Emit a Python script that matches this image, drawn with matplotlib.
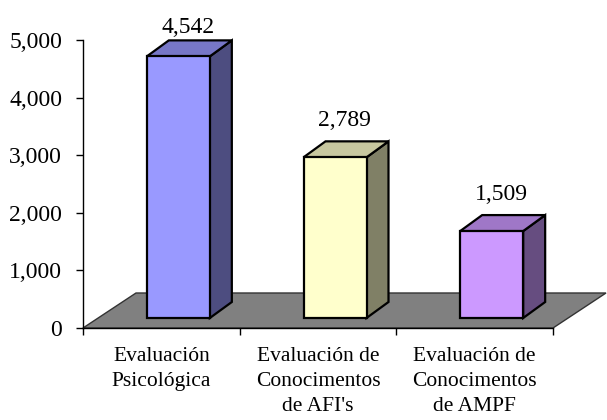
import matplotlib
matplotlib.use("Agg")
import matplotlib.pyplot as plt
from matplotlib.patches import Polygon
import numpy as np

categories = ["Evaluación\nPsicológica",
              "Evaluación de\nConocimentos\nde AFI's",
              "Evaluación de\nConocimentos\nde AMPF"]
values = [4542, 2789, 1509]
value_labels = ["4,542", "2,789", "1,509"]
yticks = [0, 1000, 2000, 3000, 4000, 5000]
ytick_labels = ["0", "1,000", "2,000", "3,000", "4,000", "5,000"]

front_colors = ["#9999FF", "#FFFFCC", "#CC99FF"]

plt.rcParams['font.family'] = ['Liberation Serif', 'DejaVu Serif']

W, H, DPI = 607, 420, 100
fig = plt.figure(figsize=(W / DPI, H / DPI), dpi=DPI)
fig.patch.set_facecolor("white")

# axes placement in pixels
ax_l, ax_r, ax_b, ax_t = 83, 553, 328, 40
ax = fig.add_axes([ax_l / W, (H - ax_b) / H, (ax_r - ax_l) / W, (ax_b - ax_t) / H])
ax.set_xlim(-0.5, 2.5)
ax.set_ylim(0, 5000)
ax.set_facecolor("none")

px_x = (ax_r - ax_l) / 3.0      # pixels per category unit
px_y = (ax_b - ax_t) / 5000.0   # pixels per value unit


def off(dx_px, dy_px):
    return dx_px / px_x, dy_px / px_y


# floor
fdx, fdy = off(53, 35)
floor = Polygon([(-0.5, 0), (2.5, 0), (2.5 + fdx, fdy), (-0.5 + fdx, fdy)],
                closed=True, facecolor="#808080", edgecolor="#333333",
                linewidth=1.0, clip_on=False, zorder=1)
ax.add_patch(floor)

# bars
bw = 63 / px_x
bfx, bfy = off(17, 10)   # front face offset into the floor
bdx, bdy = off(22, 16)   # bar depth
label_gap = 15 / px_y
label_max = (ax_b - 33) / px_y


def shade(hexc, f):
    c = np.array(matplotlib.colors.to_rgb(hexc)) * f
    return tuple(c)


for i, (v, col, lab) in enumerate(zip(values, front_colors, value_labels)):
    x0 = i - bw / 2 + bfx
    x1 = i + bw / 2 + bfx
    y0 = bfy
    y1 = bfy + v
    front = Polygon([(x0, y0), (x1, y0), (x1, y1), (x0, y1)], closed=True,
                    facecolor=col, edgecolor="black", linewidth=1.6,
                    clip_on=False, zorder=3, joinstyle="miter")
    top = Polygon([(x0, y1), (x1, y1), (x1 + bdx, y1 + bdy), (x0 + bdx, y1 + bdy)],
                  closed=True, facecolor=shade(col, 0.78), edgecolor="black",
                  linewidth=1.6, clip_on=False, zorder=3, joinstyle="miter")
    side = Polygon([(x1, y0), (x1 + bdx, y0 + bdy), (x1 + bdx, y1 + bdy), (x1, y1)],
                   closed=True, facecolor=shade(col, 0.5), edgecolor="black",
                   linewidth=1.6, clip_on=False, zorder=3, joinstyle="miter")
    for p in (side, top, front):
        ax.add_patch(p)
    ly = min(y1 + bdy + label_gap, label_max)
    ax.text(i + bfx + bdx / 2 - 0.01, ly, lab, ha="center", va="baseline",
            fontsize=17, clip_on=False, zorder=5)

# spines / ticks
for s in ("top", "right"):
    ax.spines[s].set_visible(False)
ax.spines["left"].set_linewidth(1.0)
ax.spines["bottom"].set_linewidth(1.0)
ax.spines["left"].set_zorder(4)
ax.spines["bottom"].set_zorder(4)

ax.set_yticks(yticks)
ax.set_yticklabels(ytick_labels, fontsize=17)
ax.tick_params(axis="y", direction="out", length=5, width=1, pad=10)

ax.set_xticks([-0.5, 0.5, 1.5, 2.5])
ax.set_xticklabels([])
ax.tick_params(axis="x", which="major", direction="out", length=5, width=1)
ax.set_xticks([0, 1, 2], minor=True)
ax.set_xticklabels(categories, minor=True, fontsize=15.5, linespacing=1.42)
ax.tick_params(axis="x", which="minor", length=0, pad=14)

fig.savefig("out.png", dpi=DPI, facecolor="white")
